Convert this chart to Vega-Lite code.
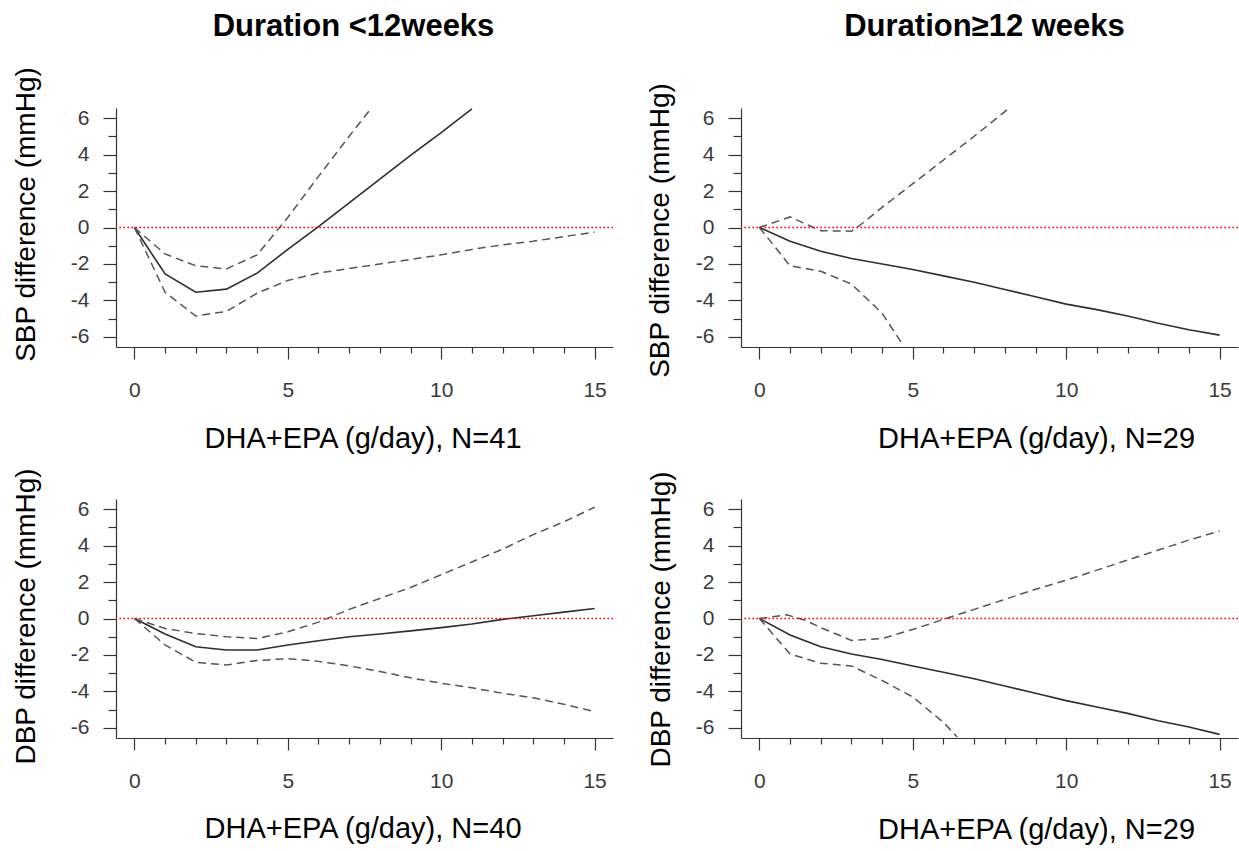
{
  "$schema": "https://vega.github.io/schema/vega-lite/v6.json",
  "background": "white",
  "padding": {"left": 11, "top": 11, "right": 2, "bottom": 5},
  "config": {
    "view": {"stroke": null},
    "axis": {
      "grid": false,
      "domainColor": "#333333",
      "domainWidth": 1.2,
      "tickColor": "#333333",
      "tickWidth": 1.2,
      "labelColor": "#3a3a3a",
      "labelFont": "Liberation Sans",
      "labelFontSize": 21,
      "labelOverlap": false,
      "labelFlush": false,
      "labelBound": false,
      "titleFont": "Liberation Sans",
      "titleFontWeight": "normal",
      "titleColor": "#000000"
    },
    "axisX": {"labelPadding": 20, "titleFontSize": 29, "titleBaseline": "middle", "titleAngle": 0},
    "axisY": {"labelPadding": 14, "titleFontSize": 28, "titleAngle": -90, "titleBaseline": "middle", "titleAlign": "center"}
  },
  "data": {
    "values": [
      {"p": "TL", "s": "fit", "x": 0, "y": 0}, {"p": "TL", "s": "fit", "x": 1, "y": -2.55}, {"p": "TL", "s": "fit", "x": 2, "y": -3.55}, {"p": "TL", "s": "fit", "x": 3, "y": -3.38}, {"p": "TL", "s": "fit", "x": 4, "y": -2.5}, {"p": "TL", "s": "fit", "x": 5, "y": -1.2}, {"p": "TL", "s": "fit", "x": 6, "y": 0.05}, {"p": "TL", "s": "fit", "x": 7, "y": 1.35}, {"p": "TL", "s": "fit", "x": 8, "y": 2.65}, {"p": "TL", "s": "fit", "x": 9, "y": 3.95}, {"p": "TL", "s": "fit", "x": 10, "y": 5.2}, {"p": "TL", "s": "fit", "x": 11, "y": 6.5},
      {"p": "TL", "s": "upper", "x": 0, "y": 0}, {"p": "TL", "s": "upper", "x": 1, "y": -1.45}, {"p": "TL", "s": "upper", "x": 2, "y": -2.1}, {"p": "TL", "s": "upper", "x": 3, "y": -2.27}, {"p": "TL", "s": "upper", "x": 4, "y": -1.5}, {"p": "TL", "s": "upper", "x": 5, "y": 0.55}, {"p": "TL", "s": "upper", "x": 6, "y": 2.8}, {"p": "TL", "s": "upper", "x": 7, "y": 5.0}, {"p": "TL", "s": "upper", "x": 7.7, "y": 6.5},
      {"p": "TL", "s": "lower", "x": 0, "y": 0}, {"p": "TL", "s": "lower", "x": 1, "y": -3.55}, {"p": "TL", "s": "lower", "x": 2, "y": -4.85}, {"p": "TL", "s": "lower", "x": 3, "y": -4.6}, {"p": "TL", "s": "lower", "x": 4, "y": -3.6}, {"p": "TL", "s": "lower", "x": 5, "y": -2.9}, {"p": "TL", "s": "lower", "x": 6, "y": -2.5}, {"p": "TL", "s": "lower", "x": 7, "y": -2.25}, {"p": "TL", "s": "lower", "x": 8, "y": -2.0}, {"p": "TL", "s": "lower", "x": 9, "y": -1.75}, {"p": "TL", "s": "lower", "x": 10, "y": -1.5}, {"p": "TL", "s": "lower", "x": 11, "y": -1.2}, {"p": "TL", "s": "lower", "x": 12, "y": -0.95}, {"p": "TL", "s": "lower", "x": 13, "y": -0.75}, {"p": "TL", "s": "lower", "x": 14, "y": -0.5}, {"p": "TL", "s": "lower", "x": 15, "y": -0.25},

      {"p": "TR", "s": "fit", "x": 0, "y": 0}, {"p": "TR", "s": "fit", "x": 1, "y": -0.75}, {"p": "TR", "s": "fit", "x": 2, "y": -1.3}, {"p": "TR", "s": "fit", "x": 3, "y": -1.7}, {"p": "TR", "s": "fit", "x": 4, "y": -2.0}, {"p": "TR", "s": "fit", "x": 5, "y": -2.3}, {"p": "TR", "s": "fit", "x": 6, "y": -2.65}, {"p": "TR", "s": "fit", "x": 7, "y": -3.0}, {"p": "TR", "s": "fit", "x": 8, "y": -3.4}, {"p": "TR", "s": "fit", "x": 9, "y": -3.8}, {"p": "TR", "s": "fit", "x": 10, "y": -4.2}, {"p": "TR", "s": "fit", "x": 11, "y": -4.5}, {"p": "TR", "s": "fit", "x": 12, "y": -4.85}, {"p": "TR", "s": "fit", "x": 13, "y": -5.25}, {"p": "TR", "s": "fit", "x": 14, "y": -5.6}, {"p": "TR", "s": "fit", "x": 15, "y": -5.9},
      {"p": "TR", "s": "upper", "x": 0, "y": 0}, {"p": "TR", "s": "upper", "x": 1, "y": 0.58}, {"p": "TR", "s": "upper", "x": 2, "y": -0.18}, {"p": "TR", "s": "upper", "x": 3, "y": -0.2}, {"p": "TR", "s": "upper", "x": 3.3, "y": 0.15}, {"p": "TR", "s": "upper", "x": 4, "y": 1.1}, {"p": "TR", "s": "upper", "x": 5, "y": 2.4}, {"p": "TR", "s": "upper", "x": 6, "y": 3.7}, {"p": "TR", "s": "upper", "x": 7, "y": 5.0}, {"p": "TR", "s": "upper", "x": 8, "y": 6.35}, {"p": "TR", "s": "upper", "x": 8.1, "y": 6.5},
      {"p": "TR", "s": "lower", "x": 0, "y": 0}, {"p": "TR", "s": "lower", "x": 1, "y": -2.1}, {"p": "TR", "s": "lower", "x": 2, "y": -2.4}, {"p": "TR", "s": "lower", "x": 3, "y": -3.1}, {"p": "TR", "s": "lower", "x": 4, "y": -4.7}, {"p": "TR", "s": "lower", "x": 4.7, "y": -6.5},

      {"p": "BL", "s": "fit", "x": 0, "y": 0}, {"p": "BL", "s": "fit", "x": 1, "y": -0.85}, {"p": "BL", "s": "fit", "x": 2, "y": -1.55}, {"p": "BL", "s": "fit", "x": 3, "y": -1.73}, {"p": "BL", "s": "fit", "x": 4, "y": -1.73}, {"p": "BL", "s": "fit", "x": 5, "y": -1.45}, {"p": "BL", "s": "fit", "x": 6, "y": -1.22}, {"p": "BL", "s": "fit", "x": 7, "y": -1.0}, {"p": "BL", "s": "fit", "x": 8, "y": -0.85}, {"p": "BL", "s": "fit", "x": 9, "y": -0.68}, {"p": "BL", "s": "fit", "x": 10, "y": -0.5}, {"p": "BL", "s": "fit", "x": 11, "y": -0.3}, {"p": "BL", "s": "fit", "x": 12, "y": -0.05}, {"p": "BL", "s": "fit", "x": 13, "y": 0.15}, {"p": "BL", "s": "fit", "x": 14, "y": 0.35}, {"p": "BL", "s": "fit", "x": 15, "y": 0.55},
      {"p": "BL", "s": "upper", "x": 0, "y": 0}, {"p": "BL", "s": "upper", "x": 1, "y": -0.55}, {"p": "BL", "s": "upper", "x": 2, "y": -0.82}, {"p": "BL", "s": "upper", "x": 3, "y": -1.0}, {"p": "BL", "s": "upper", "x": 4, "y": -1.1}, {"p": "BL", "s": "upper", "x": 5, "y": -0.73}, {"p": "BL", "s": "upper", "x": 6, "y": -0.2}, {"p": "BL", "s": "upper", "x": 7, "y": 0.5}, {"p": "BL", "s": "upper", "x": 8, "y": 1.1}, {"p": "BL", "s": "upper", "x": 9, "y": 1.7}, {"p": "BL", "s": "upper", "x": 10, "y": 2.4}, {"p": "BL", "s": "upper", "x": 11, "y": 3.1}, {"p": "BL", "s": "upper", "x": 12, "y": 3.8}, {"p": "BL", "s": "upper", "x": 13, "y": 4.6}, {"p": "BL", "s": "upper", "x": 14, "y": 5.3}, {"p": "BL", "s": "upper", "x": 15, "y": 6.1},
      {"p": "BL", "s": "lower", "x": 0, "y": 0}, {"p": "BL", "s": "lower", "x": 1, "y": -1.45}, {"p": "BL", "s": "lower", "x": 2, "y": -2.4}, {"p": "BL", "s": "lower", "x": 3, "y": -2.55}, {"p": "BL", "s": "lower", "x": 4, "y": -2.3}, {"p": "BL", "s": "lower", "x": 5, "y": -2.2}, {"p": "BL", "s": "lower", "x": 6, "y": -2.35}, {"p": "BL", "s": "lower", "x": 7, "y": -2.6}, {"p": "BL", "s": "lower", "x": 8, "y": -2.9}, {"p": "BL", "s": "lower", "x": 9, "y": -3.25}, {"p": "BL", "s": "lower", "x": 10, "y": -3.55}, {"p": "BL", "s": "lower", "x": 11, "y": -3.8}, {"p": "BL", "s": "lower", "x": 12, "y": -4.1}, {"p": "BL", "s": "lower", "x": 13, "y": -4.35}, {"p": "BL", "s": "lower", "x": 14, "y": -4.7}, {"p": "BL", "s": "lower", "x": 15, "y": -5.1},

      {"p": "BR", "s": "fit", "x": 0, "y": 0}, {"p": "BR", "s": "fit", "x": 1, "y": -0.9}, {"p": "BR", "s": "fit", "x": 2, "y": -1.55}, {"p": "BR", "s": "fit", "x": 3, "y": -1.95}, {"p": "BR", "s": "fit", "x": 4, "y": -2.25}, {"p": "BR", "s": "fit", "x": 5, "y": -2.6}, {"p": "BR", "s": "fit", "x": 6, "y": -2.95}, {"p": "BR", "s": "fit", "x": 7, "y": -3.3}, {"p": "BR", "s": "fit", "x": 8, "y": -3.7}, {"p": "BR", "s": "fit", "x": 9, "y": -4.1}, {"p": "BR", "s": "fit", "x": 10, "y": -4.5}, {"p": "BR", "s": "fit", "x": 11, "y": -4.85}, {"p": "BR", "s": "fit", "x": 12, "y": -5.2}, {"p": "BR", "s": "fit", "x": 13, "y": -5.6}, {"p": "BR", "s": "fit", "x": 14, "y": -5.95}, {"p": "BR", "s": "fit", "x": 15, "y": -6.35},
      {"p": "BR", "s": "upper", "x": 0, "y": 0}, {"p": "BR", "s": "upper", "x": 0.9, "y": 0.2}, {"p": "BR", "s": "upper", "x": 1.5, "y": -0.1}, {"p": "BR", "s": "upper", "x": 2, "y": -0.5}, {"p": "BR", "s": "upper", "x": 3, "y": -1.2}, {"p": "BR", "s": "upper", "x": 4, "y": -1.1}, {"p": "BR", "s": "upper", "x": 5, "y": -0.6}, {"p": "BR", "s": "upper", "x": 6, "y": -0.05}, {"p": "BR", "s": "upper", "x": 7, "y": 0.5}, {"p": "BR", "s": "upper", "x": 8, "y": 1.05}, {"p": "BR", "s": "upper", "x": 9, "y": 1.6}, {"p": "BR", "s": "upper", "x": 10, "y": 2.1}, {"p": "BR", "s": "upper", "x": 11, "y": 2.65}, {"p": "BR", "s": "upper", "x": 12, "y": 3.2}, {"p": "BR", "s": "upper", "x": 13, "y": 3.75}, {"p": "BR", "s": "upper", "x": 14, "y": 4.3}, {"p": "BR", "s": "upper", "x": 15, "y": 4.8},
      {"p": "BR", "s": "lower", "x": 0, "y": 0}, {"p": "BR", "s": "lower", "x": 1, "y": -1.95}, {"p": "BR", "s": "lower", "x": 2, "y": -2.45}, {"p": "BR", "s": "lower", "x": 3, "y": -2.6}, {"p": "BR", "s": "lower", "x": 4, "y": -3.4}, {"p": "BR", "s": "lower", "x": 5, "y": -4.3}, {"p": "BR", "s": "lower", "x": 6, "y": -5.7}, {"p": "BR", "s": "lower", "x": 6.45, "y": -6.5}
    ]
  },
  "columns": 2,
  "spacing": {"row": 152, "column": 128},
  "bounds": "flush",
  "concat": [
    {
      "width": 497, "height": 239,
      "title": {"text": "Duration <12weeks", "font": "Liberation Sans", "fontSize": 31, "fontWeight": "bold", "color": "#000000", "frame": "group", "anchor": "middle", "offset": 23, "dx": -11},
      "layer": [
        {
          "transform": [{"filter": "datum.p === 'TL'"}],
          "encoding": {
            "x": {"field": "x", "type": "quantitative", "scale": {"domain": [-0.6, 15.6], "nice": false, "zero": false},
                  "axis": {"title": "DHA+EPA (g/day), N=41", "values": [0,1,2,3,4,5,6,7,8,9,10,11,12,13,14,15], "labelExpr": "datum.value % 5 === 0 ? datum.label : ''", "tickSize": {"condition": {"test": "datum.value % 5 === 0", "value": 12}, "value": 6}, "titleX": 246.5, "titleY": 91}},
            "y": {"field": "y", "type": "quantitative", "scale": {"domain": [-6.55, 6.55], "nice": false, "zero": false},
                  "axis": {"title": "SBP difference (mmHg)", "values": [-6,-5,-4,-3,-2,-1,0,1,2,3,4,5,6], "labelExpr": "datum.value % 2 === 0 ? '' + datum.value : ''", "tickSize": {"condition": {"test": "datum.value % 2 === 0", "value": 13}, "value": 8}, "titleX": -90, "titleY": 106}}
          },
          "layer": [
            {"transform": [{"filter": "datum.s === 'fit'"}], "mark": {"type": "line", "color": "#2e2e2e", "strokeWidth": 1.6}},
            {"transform": [{"filter": "datum.s !== 'fit'"}], "mark": {"type": "line", "color": "#555555", "strokeWidth": 1.5, "strokeDash": [8, 5]}, "encoding": {"detail": {"field": "s"}}},
            {"transform": [{"filter": "datum.x === 0 && datum.s === 'fit'"}], "mark": {"type": "rule", "color": "#ff0000", "strokeWidth": 1.6, "strokeDash": [1.6, 2.4]}, "encoding": {"x": null}}
          ]
        }
      ]
    },
    {
      "width": 497, "height": 239,
      "title": {"text": "Duration≥12 weeks", "font": "Liberation Sans", "fontSize": 31, "fontWeight": "bold", "color": "#000000", "frame": "group", "anchor": "middle", "offset": 39, "dx": -5},
      "layer": [
        {
          "transform": [{"filter": "datum.p === 'TR'"}],
          "encoding": {
            "x": {"field": "x", "type": "quantitative", "scale": {"domain": [-0.6, 15.6], "nice": false, "zero": false},
                  "axis": {"title": "DHA+EPA (g/day), N=29", "values": [0,1,2,3,4,5,6,7,8,9,10,11,12,13,14,15], "labelExpr": "datum.value % 5 === 0 ? datum.label : ''", "tickSize": {"condition": {"test": "datum.value % 5 === 0", "value": 12}, "value": 6}, "titleX": 295, "titleY": 91}},
            "y": {"field": "y", "type": "quantitative", "scale": {"domain": [-6.55, 6.55], "nice": false, "zero": false},
                  "axis": {"title": "SBP difference (mmHg)", "values": [-6,-5,-4,-3,-2,-1,0,1,2,3,4,5,6], "labelExpr": "datum.value % 2 === 0 ? '' + datum.value : ''", "tickSize": {"condition": {"test": "datum.value % 2 === 0", "value": 13}, "value": 8}, "titleX": -81, "titleY": 122}}
          },
          "layer": [
            {"transform": [{"filter": "datum.s === 'fit'"}], "mark": {"type": "line", "color": "#2e2e2e", "strokeWidth": 1.6}},
            {"transform": [{"filter": "datum.s !== 'fit'"}], "mark": {"type": "line", "color": "#555555", "strokeWidth": 1.5, "strokeDash": [8, 5]}, "encoding": {"detail": {"field": "s"}}},
            {"transform": [{"filter": "datum.x === 0 && datum.s === 'fit'"}], "mark": {"type": "rule", "color": "#ff0000", "strokeWidth": 1.6, "strokeDash": [1.6, 2.4]}, "encoding": {"x": null}}
          ]
        }
      ]
    },
    {
      "width": 497, "height": 239,
      "layer": [
        {
          "transform": [{"filter": "datum.p === 'BL'"}],
          "encoding": {
            "x": {"field": "x", "type": "quantitative", "scale": {"domain": [-0.6, 15.6], "nice": false, "zero": false},
                  "axis": {"title": "DHA+EPA (g/day), N=40", "values": [0,1,2,3,4,5,6,7,8,9,10,11,12,13,14,15], "labelExpr": "datum.value % 5 === 0 ? datum.label : ''", "tickSize": {"condition": {"test": "datum.value % 5 === 0", "value": 12}, "value": 6}, "titleX": 246.5, "titleY": 90}},
            "y": {"field": "y", "type": "quantitative", "scale": {"domain": [-6.55, 6.55], "nice": false, "zero": false},
                  "axis": {"title": "DBP difference (mmHg)", "values": [-6,-5,-4,-3,-2,-1,0,1,2,3,4,5,6], "labelExpr": "datum.value % 2 === 0 ? '' + datum.value : ''", "tickSize": {"condition": {"test": "datum.value % 2 === 0", "value": 13}, "value": 8}, "titleX": -90, "titleY": 117}}
          },
          "layer": [
            {"transform": [{"filter": "datum.s === 'fit'"}], "mark": {"type": "line", "color": "#2e2e2e", "strokeWidth": 1.6}},
            {"transform": [{"filter": "datum.s !== 'fit'"}], "mark": {"type": "line", "color": "#555555", "strokeWidth": 1.5, "strokeDash": [8, 5]}, "encoding": {"detail": {"field": "s"}}},
            {"transform": [{"filter": "datum.x === 0 && datum.s === 'fit'"}], "mark": {"type": "rule", "color": "#ff0000", "strokeWidth": 1.6, "strokeDash": [1.6, 2.4]}, "encoding": {"x": null}}
          ]
        }
      ]
    },
    {
      "width": 497, "height": 239,
      "layer": [
        {
          "transform": [{"filter": "datum.p === 'BR'"}],
          "encoding": {
            "x": {"field": "x", "type": "quantitative", "scale": {"domain": [-0.6, 15.6], "nice": false, "zero": false},
                  "axis": {"title": "DHA+EPA (g/day), N=29", "values": [0,1,2,3,4,5,6,7,8,9,10,11,12,13,14,15], "labelExpr": "datum.value % 5 === 0 ? datum.label : ''", "tickSize": {"condition": {"test": "datum.value % 5 === 0", "value": 12}, "value": 6}, "titleX": 295, "titleY": 91}},
            "y": {"field": "y", "type": "quantitative", "scale": {"domain": [-6.55, 6.55], "nice": false, "zero": false},
                  "axis": {"title": "DBP difference (mmHg)", "values": [-6,-5,-4,-3,-2,-1,0,1,2,3,4,5,6], "labelExpr": "datum.value % 2 === 0 ? '' + datum.value : ''", "tickSize": {"condition": {"test": "datum.value % 2 === 0", "value": 13}, "value": 8}, "titleX": -80, "titleY": 120}}
          },
          "layer": [
            {"transform": [{"filter": "datum.s === 'fit'"}], "mark": {"type": "line", "color": "#2e2e2e", "strokeWidth": 1.6}},
            {"transform": [{"filter": "datum.s !== 'fit'"}], "mark": {"type": "line", "color": "#555555", "strokeWidth": 1.5, "strokeDash": [8, 5]}, "encoding": {"detail": {"field": "s"}}},
            {"transform": [{"filter": "datum.x === 0 && datum.s === 'fit'"}], "mark": {"type": "rule", "color": "#ff0000", "strokeWidth": 1.6, "strokeDash": [1.6, 2.4]}, "encoding": {"x": null}}
          ]
        }
      ]
    }
  ]
}
